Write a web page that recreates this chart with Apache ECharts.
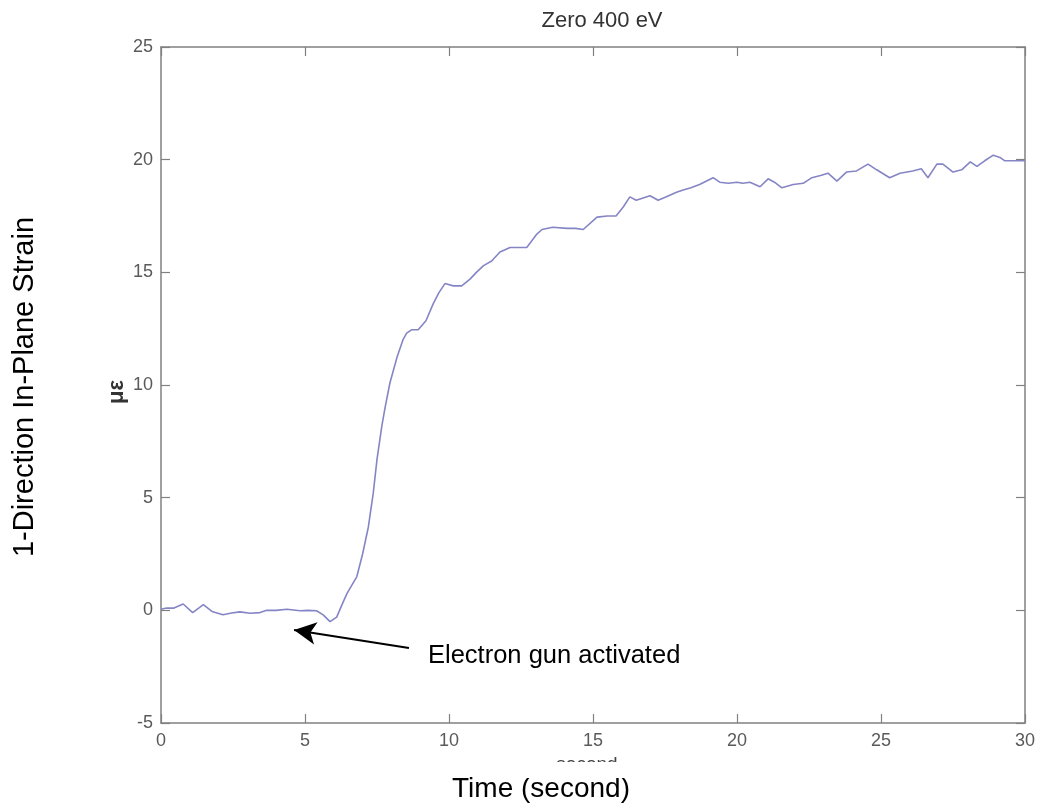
<!DOCTYPE html>
<html>
<head>
<meta charset="utf-8">
<script src="https://cdn.jsdelivr.net/npm/echarts@6/dist/echarts.min.js"></script>
<style>
  html, body { margin: 0; padding: 0; background: #fff; }
  #chart { width: 1039px; height: 807px; }
</style>
</head>
<body>
<div id="chart"></div>
<script>
// Strain record after the electron gun is switched on (Zero 400 eV run)
const timeSec = [0, 0.2, 0.45, 0.77, 1.1, 1.47, 1.77, 2.15, 2.45, 2.74, 3.09, 3.44, 3.67, 4.0, 4.37, 4.83, 5.1, 5.4, 5.63, 5.87,
  6.1, 6.3, 6.46, 6.8, 7.0, 7.2, 7.37, 7.5, 7.67, 7.78, 7.95, 8.2, 8.4, 8.53, 8.7, 8.93, 9.2, 9.45, 9.65, 9.86,
  10.15, 10.44, 10.73, 10.95, 11.2, 11.48, 11.77, 12.12, 12.4, 12.7, 13.05, 13.23, 13.6, 14.1, 14.4, 14.66, 15.14, 15.5, 15.8, 16.05,
  16.28, 16.5, 16.98, 17.26, 17.55, 17.9, 18.13, 18.4, 18.7, 19.17, 19.4, 19.7, 20.0, 20.2, 20.45, 20.8, 21.08, 21.3, 21.56, 21.95,
  22.3, 22.6, 22.9, 23.16, 23.47, 23.8, 24.15, 24.55, 24.85, 25.3, 25.66, 26.1, 26.4, 26.63, 26.94, 27.15, 27.5, 27.8, 28.1, 28.33,
  28.6, 28.9, 29.13, 29.3, 29.6, 30];
const strainMicro = [0.05, 0.1, 0.1, 0.28, -0.1, 0.25, -0.05, -0.2, -0.12, -0.07, -0.13, -0.1, 0.0, 0.0, 0.05, -0.02, 0.0, -0.02, -0.2, -0.5,
  -0.3, 0.3, 0.75, 1.5, 2.5, 3.7, 5.2, 6.7, 8.2, 9.0, 10.1, 11.25, 12.0, 12.3, 12.45, 12.45, 12.85, 13.6, 14.1, 14.5,
  14.4, 14.4, 14.7, 15.0, 15.3, 15.5, 15.9, 16.1, 16.1, 16.1, 16.7, 16.9, 17.0, 16.95, 16.95, 16.9, 17.45, 17.5, 17.5, 17.9,
  18.35, 18.2, 18.4, 18.2, 18.35, 18.55, 18.65, 18.75, 18.9, 19.2, 19.0, 18.95, 19.0, 18.95, 19.0, 18.8, 19.15, 19.0, 18.75, 18.9,
  18.95, 19.2, 19.3, 19.4, 19.05, 19.45, 19.5, 19.8, 19.55, 19.2, 19.4, 19.5, 19.6, 19.2, 19.8, 19.8, 19.45, 19.55, 19.9, 19.7,
  19.95, 20.2, 20.1, 19.95, 19.95, 19.95];

// Axis ranges and tick steps
const xRange = [0, 30], xStep = 5;
const yRange = [-5, 25], yStep = 5;

// Annotation arrow: tail near the note, head pointing at the switch-on moment
const arrowTail = [8.61, -1.67];
const arrowHead = [4.62, -0.87];
const noteText = 'Electron gun activated';

const FONT = '"Liberation Sans", Arial, Helvetica, sans-serif';
const AXIS_COLOR = '#808080';
const LABEL_COLOR = '#5a5a5a';

const chart = echarts.init(document.getElementById('chart'), null, { renderer: 'canvas' });

function boxAxis(kind, position, showLabels, range, step) {
  return {
    type: 'value',
    position: position,
    min: range[0],
    max: range[1],
    interval: step,
    axisLine: { show: true, onZero: false, lineStyle: { color: AXIS_COLOR, width: 1.5 } },
    axisTick: { show: true, inside: true, length: 9, lineStyle: { color: AXIS_COLOR, width: 1.2 } },
    axisLabel: {
      show: showLabels,
      color: LABEL_COLOR,
      fontFamily: FONT,
      fontSize: 18,
      margin: kind === 'x' ? 9 : 8
    },
    splitLine: { show: false }
  };
}

const xAxes = [boxAxis('x', 'bottom', true, xRange, xStep), boxAxis('x', 'top', false, xRange, xStep)];
const yAxes = [boxAxis('y', 'left', true, yRange, yStep), boxAxis('y', 'right', false, yRange, yStep)];

chart.setOption({
  backgroundColor: '#ffffff',
  animation: false,
  grid: { left: 161, top: 47, right: 14, bottom: 84, containLabel: false },
  xAxis: xAxes,
  yAxis: yAxes,
  series: [
    {
      type: 'line',
      xAxisIndex: 0,
      yAxisIndex: 0,
      data: timeSec.map((t, i) => [t, strainMicro[i]]),
      showSymbol: false,
      smooth: false,
      lineStyle: { color: '#8585c6', width: 1.6 },
      markLine: {
        silent: true,
        symbol: ['none', 'arrow'],
        symbolSize: [17, 22],
        label: { show: false },
        lineStyle: { color: '#000000', width: 2, type: 'solid' },
        data: [[{ coord: arrowTail }, { coord: arrowHead }]]
      }
    }
  ],
  graphic: [
    {
      type: 'text',
      position: [602, 21],
      style: { text: 'Zero 400 eV', font: '22px ' + FONT, fill: '#333', textAlign: 'center', textVerticalAlign: 'middle' }
    },
    {
      type: 'text',
      position: [117, 392],
      rotation: Math.PI / 2,
      style: { text: 'με', font: 'bold 22px ' + FONT, fill: '#333', textAlign: 'center', textVerticalAlign: 'middle' }
    },
    {
      type: 'text',
      position: [25, 387],
      rotation: Math.PI / 2,
      style: { text: '1-Direction In-Plane Strain', font: '29px ' + FONT, fill: '#000', textAlign: 'center', textVerticalAlign: 'middle' }
    },
    {
      type: 'text',
      position: [541, 789],
      style: { text: 'Time (second)', font: '28px ' + FONT, fill: '#000', textAlign: 'center', textVerticalAlign: 'middle' }
    },
    {
      type: 'text',
      position: [428, 656],
      style: { text: noteText, font: '25.5px ' + FONT, fill: '#000', textAlign: 'left', textVerticalAlign: 'middle' }
    },
    {
      // the inner "second" axis caption is mostly covered by the outer one
      type: 'group',
      children: [
        {
          type: 'text',
          position: [587, 765],
          style: { text: 'second', font: '19px ' + FONT, fill: '#444', textAlign: 'center', textVerticalAlign: 'middle' }
        },
        {
          type: 'rect',
          shape: { x: 520, y: 762, width: 140, height: 16 },
          style: { fill: '#ffffff' }
        }
      ]
    }
  ]
});
</script>
</body>
</html>
